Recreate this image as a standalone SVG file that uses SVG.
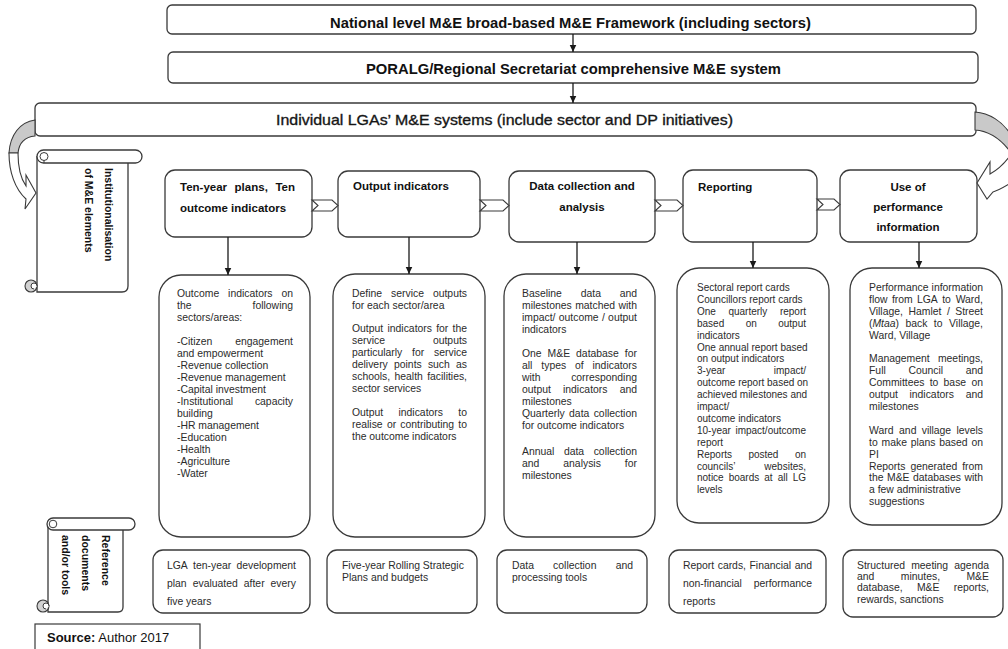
<svg xmlns="http://www.w3.org/2000/svg" width="1008" height="649" viewBox="0 0 1008 649">
  <style>
    .box { fill: #fff; stroke: #3a3a3a; stroke-width: 1.3; }
    .ln { fill: none; stroke: #1a1a1a; stroke-width: 1.3; }
    .band { fill: #c9c9c9; stroke: #3a3a3a; stroke-width: 1.1; }
    .front { fill: #fff; stroke: #3a3a3a; stroke-width: 1.1; }
    .top { font-family: "Liberation Sans Narrow", "Arial Narrow", "Liberation Sans", Arial, sans-serif; font-size: 15px; font-weight: bold; fill: #111; }
    .h { font-family: "Liberation Sans", Arial, sans-serif; font-size: 11.5px; font-weight: bold; fill: #111; }
    .v { font-family: "Liberation Sans", Arial, sans-serif; font-size: 10.5px; font-weight: bold; fill: #111; }
    .t { font-family: "Liberation Sans", Arial, sans-serif; font-size: 10.4px; fill: #2b2b2b; }
    .t4 { font-family: "Liberation Sans", Arial, sans-serif; font-size: 10px; fill: #2b2b2b; }
    .e { text-anchor: end; }
    .m { text-anchor: middle; }
  </style>
  <defs>
    <marker id="ah" markerWidth="8" markerHeight="8" refX="7.5" refY="4" orient="auto" markerUnits="userSpaceOnUse">
      <path d="M0,0.5 L7.5,4 L0,7.5 Z" fill="#1a1a1a"/>
    </marker>
  </defs>

  <rect width="1008" height="649" fill="#fff"/>

  <!-- top hierarchy -->
  <g id="node-national">
    <rect class="box" x="167" y="5" width="809" height="29" rx="5"/>
    <text class="top" x="330" y="28" textLength="481" lengthAdjust="spacingAndGlyphs">National level M&amp;E broad-based M&amp;E Framework (including sectors)</text>
  </g>
  <g id="node-poralg">
    <rect class="box" x="168" y="52" width="810" height="31" rx="5"/>
    <text class="top" x="366" y="74" textLength="415" lengthAdjust="spacingAndGlyphs">PORALG/Regional Secretariat comprehensive M&amp;E system</text>
  </g>
  <g id="node-lga">
    <rect class="box" x="35" y="103" width="941" height="33" rx="5"/>
    <text class="top" x="276" y="125" textLength="457" lengthAdjust="spacingAndGlyphs" style="font-weight:normal" stroke="#222" stroke-width="0.35">Individual LGAs’ M&amp;E systems (include sector and DP initiatives)</text>
  </g>

  <!-- side scroll: institutionalisation -->
  <g id="node-scroll-inst">
    <path class="box" d="M37,156 L37,292 L122,292 Q128,292 128,286 L128,163"/>
    <circle cx="31" cy="286" r="6" fill="#d2d2d2" stroke="#3a3a3a" stroke-width="1.1"/>
    <path d="M37,286 A3,3 0 0 0 31,286 A3,3 0 0 0 34,289" fill="#fff" stroke="#3a3a3a" stroke-width="1"/>
    <rect class="box" x="37" y="150" width="105" height="13" rx="6.5"/>
    <circle cx="44" cy="156.5" r="4" fill="#fff" stroke="#3a3a3a" stroke-width="1"/>
    <path d="M44,160.5 L44,163" stroke="#3a3a3a" stroke-width="1"/>
    <text class="v" transform="translate(105,168) rotate(90)">Institutionalisation</text>
    <text class="v" transform="translate(85,168) rotate(90)">of M&amp;E elements</text>
  </g>

  <!-- side scroll: reference documents -->
  <g id="node-scroll-ref">
    <path class="box" d="M48,524 L48,612 L118,612 Q123,612 123,607 L123,530"/>
    <circle cx="43" cy="606" r="6" fill="#d2d2d2" stroke="#3a3a3a" stroke-width="1.1"/>
    <path d="M49,606 A3,3 0 0 0 43,606 A3,3 0 0 0 46,609" fill="#fff" stroke="#3a3a3a" stroke-width="1"/>
    <rect class="box" x="47" y="518" width="88" height="12" rx="6"/>
    <circle cx="53" cy="524" r="3.8" fill="#fff" stroke="#3a3a3a" stroke-width="1"/>
    <text class="v" transform="translate(102,535) rotate(90)">Reference</text>
    <text class="v" transform="translate(82,535) rotate(90)">documents</text>
    <text class="v" transform="translate(62,535) rotate(90)">and/or tools</text>
  </g>

  <!-- stage headers -->
  <g id="node-h1">
    <rect class="box" x="165" y="170" width="147" height="67" rx="10"/>
    <text class="h" x="180" y="191">Ten-year</text>
    <text class="h" x="234.6" y="191">plans,</text>
    <text class="h e" x="295" y="191">Ten</text>
    <text class="h" x="180" y="212">outcome indicators</text>
  </g>
  <g id="node-h2">
    <rect class="box" x="338" y="171" width="142" height="66" rx="10"/>
    <text class="h" x="353" y="190">Output indicators</text>
  </g>
  <g id="node-h3">
    <rect class="box" x="509" y="171" width="146" height="71" rx="10"/>
    <text class="h m" x="582" y="190">Data collection and</text>
    <text class="h m" x="582" y="211">analysis</text>
  </g>
  <g id="node-h4">
    <rect class="box" x="683" y="170" width="134" height="72" rx="10"/>
    <text class="h" x="698" y="191">Reporting</text>
  </g>
  <g id="node-h5">
    <rect class="box" x="840" y="170" width="137" height="72" rx="10"/>
    <text class="h m" x="908" y="191">Use of</text>
    <text class="h m" x="908" y="211">performance</text>
    <text class="h m" x="908" y="231">information</text>
  </g>

  <!-- stage content -->
  <g id="node-c1">
    <rect class="box" x="159" y="275" width="151" height="262" rx="22"/>
    <text class="t" x="177" y="297">Outcome</text>
    <text class="t" x="228.1" y="297">indicators</text>
    <text class="t e" x="293" y="297">on</text>
    <text class="t" x="177" y="309">the</text>
    <text class="t e" x="293" y="309">following</text>
    <text class="t" x="177" y="321">sectors/areas:</text>
    <text class="t" x="177" y="345">-Citizen</text>
    <text class="t e" x="293" y="345">engagement</text>
    <text class="t" x="177" y="357">and empowerment</text>
    <text class="t" x="177" y="369">-Revenue collection</text>
    <text class="t" x="177" y="381">-Revenue management</text>
    <text class="t" x="177" y="393">-Capital investment</text>
    <text class="t" x="177" y="405">-Institutional</text>
    <text class="t e" x="293" y="405">capacity</text>
    <text class="t" x="177" y="417">building</text>
    <text class="t" x="177" y="429">-HR management</text>
    <text class="t" x="177" y="441">-Education</text>
    <text class="t" x="177" y="453">-Health</text>
    <text class="t" x="177" y="465">-Agriculture</text>
    <text class="t" x="177" y="477">-Water</text>
  </g>
  <g id="node-c2">
    <rect class="box" x="333" y="274" width="152" height="263" rx="22"/>
    <text class="t" x="352" y="297">Define</text>
    <text class="t" x="391" y="297">service</text>
    <text class="t e" x="467" y="297">outputs</text>
    <text class="t" x="352" y="309">for each sector/area</text>
    <text class="t" x="352" y="332">Output</text>
    <text class="t" x="387.5" y="332">indicators</text>
    <text class="t" x="436.2" y="332">for</text>
    <text class="t e" x="467" y="332">the</text>
    <text class="t" x="352" y="344">service</text>
    <text class="t e" x="467" y="344">outputs</text>
    <text class="t" x="352" y="356">particularly</text>
    <text class="t" x="412.1" y="356">for</text>
    <text class="t e" x="467" y="356">service</text>
    <text class="t" x="352" y="368">delivery</text>
    <text class="t" x="394" y="368">points</text>
    <text class="t" x="427.9" y="368">such</text>
    <text class="t e" x="467" y="368">as</text>
    <text class="t" x="352" y="380">schools,</text>
    <text class="t" x="394.5" y="380">health</text>
    <text class="t e" x="467" y="380">facilities,</text>
    <text class="t" x="352" y="392">sector services</text>
    <text class="t" x="352" y="416">Output</text>
    <text class="t" x="398.5" y="416">indicators</text>
    <text class="t e" x="467" y="416">to</text>
    <text class="t" x="352" y="428">realise</text>
    <text class="t" x="386.9" y="428">or</text>
    <text class="t" x="400.3" y="428">contributing</text>
    <text class="t e" x="467" y="428">to</text>
    <text class="t" x="352" y="440">the outcome indicators</text>
  </g>
  <g id="node-c3">
    <rect class="box" x="504" y="274" width="151" height="263" rx="22"/>
    <text class="t" x="522" y="297">Baseline</text>
    <text class="t" x="580.7" y="297">data</text>
    <text class="t e" x="637" y="297">and</text>
    <text class="t" x="522" y="309">milestones</text>
    <text class="t" x="575.2" y="309">matched</text>
    <text class="t e" x="637" y="309">with</text>
    <text class="t" x="522" y="321">impact/</text>
    <text class="t" x="558.8" y="321">outcome</text>
    <text class="t" x="601.9" y="321">/</text>
    <text class="t e" x="637" y="321">output</text>
    <text class="t" x="522" y="333">indicators</text>
    <text class="t" x="522" y="357">One</text>
    <text class="t" x="547.6" y="357">M&amp;E</text>
    <text class="t" x="576.1" y="357">database</text>
    <text class="t e" x="637" y="357">for</text>
    <text class="t" x="522" y="369">all</text>
    <text class="t" x="541.3" y="369">types</text>
    <text class="t" x="575" y="369">of</text>
    <text class="t e" x="637" y="369">indicators</text>
    <text class="t" x="522" y="381">with</text>
    <text class="t e" x="637" y="381">corresponding</text>
    <text class="t" x="522" y="393">output</text>
    <text class="t" x="563" y="393">indicators</text>
    <text class="t e" x="637" y="393">and</text>
    <text class="t" x="522" y="405">milestones</text>
    <text class="t" x="522" y="417">Quarterly</text>
    <text class="t" x="569.1" y="417">data</text>
    <text class="t e" x="637" y="417">collection</text>
    <text class="t" x="522" y="429">for outcome indicators</text>
    <text class="t" x="522" y="455">Annual</text>
    <text class="t" x="563.9" y="455">data</text>
    <text class="t e" x="637" y="455">collection</text>
    <text class="t" x="522" y="467">and</text>
    <text class="t" x="563.3" y="467">analysis</text>
    <text class="t e" x="637" y="467">for</text>
    <text class="t" x="522" y="479">milestones</text>
  </g>
  <g id="node-c4">
    <rect class="box" x="677" y="268" width="152" height="255" rx="22"/>
    <text class="t4" x="697" y="291">Sectoral report cards</text>
    <text class="t4" x="697" y="302.9">Councillors report cards</text>
    <text class="t4" x="697" y="314.8">One</text>
    <text class="t4" x="728.4" y="314.8">quarterly</text>
    <text class="t4 e" x="806" y="314.8">report</text>
    <text class="t4" x="697" y="326.7">based</text>
    <text class="t4" x="745.7" y="326.7">on</text>
    <text class="t4 e" x="806" y="326.7">output</text>
    <text class="t4" x="697" y="338.6">indicators</text>
    <text class="t4" x="697" y="350.5">One annual report based</text>
    <text class="t4" x="697" y="362.4">on output indicators</text>
    <text class="t4" x="697" y="374.3">3-year</text>
    <text class="t4 e" x="806" y="374.3">impact/</text>
    <text class="t4" x="697" y="386.2">outcome report based on</text>
    <text class="t4" x="697" y="398.1">achieved milestones and</text>
    <text class="t4" x="697" y="410">impact/</text>
    <text class="t4" x="697" y="421.9">outcome indicators</text>
    <text class="t4" x="697" y="433.8">10-year</text>
    <text class="t4 e" x="806" y="433.8">impact/outcome</text>
    <text class="t4" x="697" y="445.7">report</text>
    <text class="t4" x="697" y="457.6">Reports</text>
    <text class="t4" x="748.4" y="457.6">posted</text>
    <text class="t4 e" x="806" y="457.6">on</text>
    <text class="t4" x="697" y="469.5">councils’</text>
    <text class="t4 e" x="806" y="469.5">websites,</text>
    <text class="t4" x="697" y="481.4">notice</text>
    <text class="t4" x="728.7" y="481.4">boards</text>
    <text class="t4" x="764.3" y="481.4">at</text>
    <text class="t4" x="777.7" y="481.4">all</text>
    <text class="t4 e" x="806" y="481.4">LG</text>
    <text class="t4" x="697" y="493.3">levels</text>
  </g>
  <g id="node-c5">
    <rect class="box" x="850" y="268" width="152" height="257" rx="22"/>
    <text class="t" x="869" y="291">Performance</text>
    <text class="t e" x="983" y="291">information</text>
    <text class="t" x="869" y="302.9">flow</text>
    <text class="t" x="891.9" y="302.9">from</text>
    <text class="t" x="917" y="302.9">LGA</text>
    <text class="t" x="942.2" y="302.9">to</text>
    <text class="t e" x="983" y="302.9">Ward,</text>
    <text class="t" x="869" y="314.8">Village,</text>
    <text class="t" x="908.5" y="314.8">Hamlet</text>
    <text class="t" x="946.9" y="314.8">/</text>
    <text class="t e" x="983" y="314.8">Street</text>
    <text class="t" x="869" y="326.7">(<tspan font-style="italic">Mtaa</tspan>)</text>
    <text class="t" x="905.5" y="326.7">back</text>
    <text class="t" x="933.8" y="326.7">to</text>
    <text class="t e" x="983" y="326.7">Village,</text>
    <text class="t" x="869" y="338.6">Ward, Village</text>
    <text class="t" x="869" y="362.4">Management</text>
    <text class="t e" x="983" y="362.4">meetings,</text>
    <text class="t" x="869" y="374.3">Full</text>
    <text class="t" x="908.4" y="374.3">Council</text>
    <text class="t e" x="983" y="374.3">and</text>
    <text class="t" x="869" y="386.2">Committees</text>
    <text class="t" x="929.7" y="386.2">to</text>
    <text class="t" x="943.6" y="386.2">base</text>
    <text class="t e" x="983" y="386.2">on</text>
    <text class="t" x="869" y="398.1">output</text>
    <text class="t" x="909.5" y="398.1">indicators</text>
    <text class="t e" x="983" y="398.1">and</text>
    <text class="t" x="869" y="410">milestones</text>
    <text class="t" x="869" y="433.8">Ward</text>
    <text class="t" x="899.1" y="433.8">and</text>
    <text class="t" x="921.7" y="433.8">village</text>
    <text class="t e" x="983" y="433.8">levels</text>
    <text class="t" x="869" y="445.7">to</text>
    <text class="t" x="881.5" y="445.7">make</text>
    <text class="t" x="910.7" y="445.7">plans</text>
    <text class="t" x="939.3" y="445.7">based</text>
    <text class="t e" x="983" y="445.7">on</text>
    <text class="t" x="869" y="457.6">PI</text>
    <text class="t" x="869" y="469.5">Reports</text>
    <text class="t" x="910.4" y="469.5">generated</text>
    <text class="t e" x="983" y="469.5">from</text>
    <text class="t" x="869" y="481.4">the</text>
    <text class="t" x="887" y="481.4">M&amp;E</text>
    <text class="t" x="913" y="481.4">databases</text>
    <text class="t e" x="983" y="481.4">with</text>
    <text class="t" x="869" y="493.3">a few administrative</text>
    <text class="t" x="869" y="505.2">suggestions</text>
  </g>

  <!-- reference documents / tools -->
  <g id="node-r1">
    <rect class="box" x="153" y="550" width="157" height="63" rx="10"/>
    <text class="t" x="167" y="569">LGA</text>
    <text class="t" x="193.1" y="569">ten-year</text>
    <text class="t e" x="296" y="569">development</text>
    <text class="t" x="167" y="587">plan</text>
    <text class="t" x="192.7" y="587">evaluated</text>
    <text class="t" x="243.8" y="587">after</text>
    <text class="t e" x="296" y="587">every</text>
    <text class="t" x="167" y="605">five years</text>
  </g>
  <g id="node-r2">
    <rect class="box" x="327" y="550" width="150" height="63" rx="10"/>
    <text class="t" x="342" y="568.5">Five-year Rolling Strategic</text>
    <text class="t" x="342" y="580.5">Plans and budgets</text>
  </g>
  <g id="node-r3">
    <rect class="box" x="497" y="550" width="150" height="63" rx="10"/>
    <text class="t" x="512" y="568.5">Data</text>
    <text class="t" x="553.1" y="568.5">collection</text>
    <text class="t e" x="633" y="568.5">and</text>
    <text class="t" x="512" y="580.5">processing tools</text>
  </g>
  <g id="node-r4">
    <rect class="box" x="669" y="550" width="157" height="63" rx="10"/>
    <text class="t" x="683" y="569">Report</text>
    <text class="t" x="717.7" y="569">cards,</text>
    <text class="t" x="749.5" y="569">Financial</text>
    <text class="t e" x="812" y="569">and</text>
    <text class="t" x="683" y="587">non-financial</text>
    <text class="t e" x="812" y="587">performance</text>
    <text class="t" x="683" y="605">reports</text>
  </g>
  <g id="node-r5">
    <rect class="box" x="843" y="550" width="160" height="67" rx="10"/>
    <text class="t" x="857" y="568.5">Structured</text>
    <text class="t" x="911.2" y="568.5">meeting</text>
    <text class="t e" x="989" y="568.5">agenda</text>
    <text class="t" x="857" y="579.5">and</text>
    <text class="t" x="900.8" y="579.5">minutes,</text>
    <text class="t e" x="989" y="579.5">M&amp;E</text>
    <text class="t" x="857" y="590.5">database,</text>
    <text class="t" x="916.9" y="590.5">M&amp;E</text>
    <text class="t e" x="989" y="590.5">reports,</text>
    <text class="t" x="857" y="602.5">rewards, sanctions</text>
  </g>

  <g id="node-source">
    <rect x="35" y="624" width="165" height="32" fill="#fff" stroke="#3a3a3a" stroke-width="1.2"/>
    <text x="47" y="642" font-family="Liberation Sans, Arial, sans-serif" font-size="13" fill="#111"><tspan font-weight="bold">Source:</tspan> Author 2017</text>
  </g>

  <!-- connectors -->
  <g id="connectors">
    <line class="ln" x1="573" y1="34" x2="573" y2="52" marker-end="url(#ah)"/>
    <line class="ln" x1="573" y1="83" x2="573" y2="103" marker-end="url(#ah)"/>

    <line class="ln" x1="228" y1="237" x2="228" y2="275" marker-end="url(#ah)"/>
    <line class="ln" x1="409" y1="237" x2="409" y2="274" marker-end="url(#ah)"/>
    <line class="ln" x1="577" y1="242" x2="577" y2="274" marker-end="url(#ah)"/>
    <line class="ln" x1="753" y1="242" x2="753" y2="268" marker-end="url(#ah)"/>
    <line class="ln" x1="919" y1="242" x2="919" y2="268" marker-end="url(#ah)"/>

    <!-- notched chevrons between stages -->
    <path class="front" d="M312,200 H332 L338,205.5 L332,211 H312 L318,205.5 Z"/>
    <path class="front" d="M480,200 H503 L509,205.5 L503,211 H480 L486,205.5 Z"/>
    <path class="front" d="M655,200 H677 L683,205.5 L677,211 H655 L661,205.5 Z"/>
    <path class="front" d="M817,199 H834 L840,204.5 L834,210 H817 L823,204.5 Z"/>

    <!-- curved arrow into the institutionalisation scroll -->
    <path class="band" d="M35,120 C20,122 10,135 9,153 L18,153 C19,143 25,137 35,136 Z"/>
    <path class="front" d="M9,153 C9,172 15,189 26,199 L25,209 L36,193 L26,175 L26,186 C21,179 18,166 18,153 Z"/>

    <!-- curved arrow into use of performance information -->
    <path class="band" d="M975,112 C990,113 1002,122 1009,132 L1009,150 C1001,140 990,131 975,130 Z"/>
    <path class="front" d="M1009,157 C1003,165 997,170 990,174 L990,162 L977,183 L987,199 L993,192 C999,190 1004,187 1009,184 Z"/>
  </g>
</svg>
